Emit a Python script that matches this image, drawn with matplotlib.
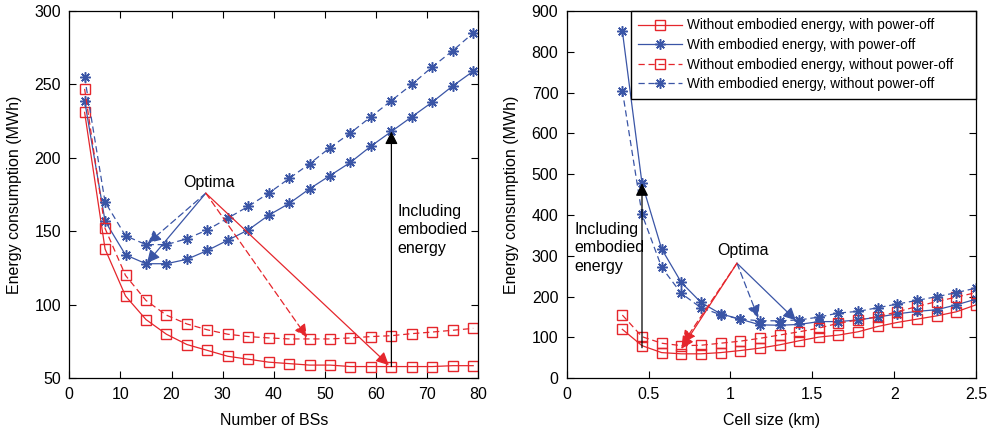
import matplotlib
matplotlib.use('Agg')
import matplotlib.pyplot as plt

plt.rcParams['font.family'] = ['Liberation Sans', 'DejaVu Sans']

RED = '#e5262c'
BLUE = '#3a55a6'

# Left: energy vs number of BSs
n_bs = [3, 7, 11, 15, 19, 23, 27, 31, 35, 39, 43, 47, 51, 55, 59, 63, 67, 71, 75, 79]
left_noemb_off = [231, 138, 106, 90, 80, 73, 69, 65, 63, 61, 60, 59, 59, 58, 58, 58, 58, 58, 58.6, 58.6]
left_emb_off = [239, 157, 134, 128, 128, 131, 137, 144, 151, 161, 169, 179, 188, 197, 208, 218, 228, 238, 249, 259]
left_noemb_on = [247, 152, 120, 103, 93, 87, 83, 80, 78.4, 77.5, 76.8, 76.8, 76.8, 77.5, 78.4, 79, 80.4, 81.5, 82.7, 84]
left_emb_on = [255, 170, 147, 141, 141, 145, 151, 159, 167, 176, 186, 196, 207, 217, 228, 239, 250, 262, 273, 285]

# Right: energy vs cell size
cell_km = [0.34, 0.46, 0.58, 0.70, 0.82, 0.94, 1.06, 1.18, 1.30, 1.42,
           1.54, 1.66, 1.78, 1.90, 2.02, 2.14, 2.26, 2.38, 2.50]
right_noemb_off = [120, 80, 63, 60, 60, 63, 68, 74, 82, 92, 101, 106, 114, 127, 137, 145, 153, 163, 180]
right_emb_off = [851, 478, 317, 235, 186, 158, 145, 131, 130, 132, 139, 139, 143, 150, 158, 164, 168, 180, 194]
right_noemb_on = [155, 102, 86, 80, 81, 86, 91, 98, 106, 114, 123, 135, 143, 151, 163, 176, 188, 199, 210]
right_emb_on = [705, 402, 272, 208, 173, 156, 145, 141, 141, 143, 150, 160, 164, 173, 182, 191, 200, 210, 221]

labels = ['Without embodied energy, with power-off',
          'With embodied energy, with power-off',
          'Without embodied energy, without power-off',
          'With embodied energy, without power-off']

DASH = (0, (5, 3))
sq = dict(marker='s', markersize=7, markerfacecolor='none', markeredgewidth=1.0)
st = dict(marker=(8, 2, 0), markersize=7.5, markeredgewidth=1.1)


def draw(ax, x, a, b, c, d):
    ax.plot(x, a, color=RED, lw=0.9, label=labels[0], **sq)
    ax.plot(x, b, color=BLUE, lw=0.9, label=labels[1], markeredgecolor=BLUE, **st)
    ax.plot(x, c, color=RED, lw=0.9, ls=DASH, label=labels[2], **sq)
    ax.plot(x, d, color=BLUE, lw=0.9, ls=DASH, label=labels[3], markeredgecolor=BLUE, **st)


def arrow(ax, tip, start, color, ls='-'):
    ax.annotate('', xy=tip, xytext=start,
                arrowprops=dict(arrowstyle='-|>', color=color, lw=0.9, ls=ls,
                                mutation_scale=19, shrinkA=0, shrinkB=0))


def style(ax):
    ax.tick_params(direction='in', top=True, right=True, length=5, width=0.8,
                   labelsize=11.5, pad=6)
    for s in ax.spines.values():
        s.set_linewidth(0.9)
    ax.set_ylabel('Energy consumption (MWh)', fontsize=11.5, labelpad=9)


fig = plt.figure(figsize=(9.94, 4.33), dpi=100)
ax1 = fig.add_axes([0.0697, 0.1263, 0.4115, 0.8483])
ax2 = fig.add_axes([0.5701, 0.1263, 0.4118, 0.8483])

draw(ax1, n_bs, left_noemb_off, left_emb_off, left_noemb_on, left_emb_on)
ax1.set_xlim(0, 80)
ax1.set_ylim(50, 300)
ax1.set_xticks(range(0, 81, 10))
ax1.set_yticks(range(50, 301, 50))
ax1.set_xlabel('Number of BSs', fontsize=11.5, labelpad=8)
style(ax1)

o1 = (26.7, 176)
arrow(ax1, (15.4, 142), o1, BLUE, DASH)
arrow(ax1, (15.2, 128.5), o1, BLUE)
arrow(ax1, (46.5, 78), o1, RED, DASH)
arrow(ax1, (62.5, 59), o1, RED)
ax1.text(27.4, 183, 'Optima', ha='center', va='center', fontsize=11.5)
arrow(ax1, (63, 218), (63, 58), 'black')
ax1.text(64.2, 151, 'Including\nembodied\nenergy', ha='left', va='center',
         fontsize=11.5, linespacing=1.3)

draw(ax2, cell_km, right_noemb_off, right_emb_off, right_noemb_on, right_emb_on)
ax2.set_xlim(0, 2.5)
ax2.set_ylim(0, 900)
ax2.set_xticks([0, 0.5, 1, 1.5, 2, 2.5])
ax2.set_xticklabels(['0', '0.5', '1', '1.5', '2', '2.5'])
ax2.set_yticks(range(0, 901, 100))
ax2.set_xlabel('Cell size (km)', fontsize=11.5, labelpad=8)
style(ax2)

o2 = (1.04, 282)
arrow(ax2, (1.40, 142), o2, BLUE)
arrow(ax2, (1.17, 148), o2, BLUE, DASH)
arrow(ax2, (0.70, 72), o2, RED)
arrow(ax2, (0.71, 86), o2, RED, DASH)
ax2.text(1.075, 313, 'Optima', ha='center', va='center', fontsize=11.5)
arrow(ax2, (0.46, 478), (0.46, 75), 'black')
ax2.text(0.045, 320, 'Including\nembodied\nenergy', ha='left', va='center',
         fontsize=11.5, linespacing=1.3)

leg = ax2.legend(loc='upper right', bbox_to_anchor=(0.157, 0.5, 0.843, 0.5),
                 mode='expand', fontsize=9.8, fancybox=False, framealpha=1,
                 edgecolor='black', borderaxespad=0, handlelength=3.2,
                 labelspacing=0.41, borderpad=0.55, handletextpad=0.4)
leg.get_frame().set_linewidth(1.0)

fig.savefig('out.png', dpi=100)
